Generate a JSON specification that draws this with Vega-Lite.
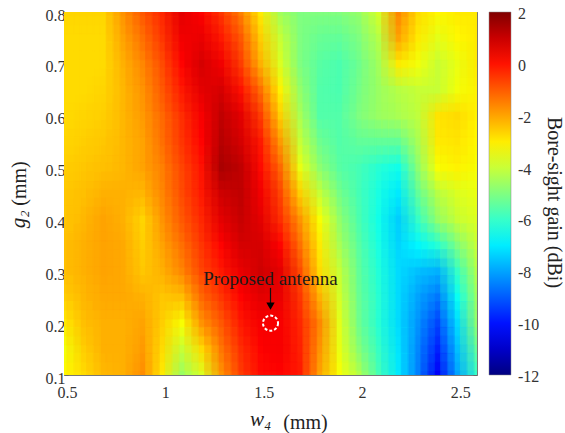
{"$schema":"https://vega.github.io/schema/vega-lite/v6.json","autosize":{"type":"none"},"padding":{"left":64,"top":12,"right":88,"bottom":58},"width":413,"height":363,"background":"white","config":{"view":{"stroke":null},"font":"Liberation Serif"},
"datasets":{"grid":[
{"w":0.5,"g":0.8,"v":-2.7},{"w":0.6,"g":0.8,"v":-2.7},{"w":0.7,"g":0.8,"v":-2.7},{"w":0.8,"g":0.8,"v":-1.8},{"w":0.9,"g":0.8,"v":-1},{"w":1.0,"g":0.8,"v":-0.3},{"w":1.1,"g":0.8,"v":0.6},{"w":1.2,"g":0.8,"v":0.2},{"w":1.3,"g":0.8,"v":-0.5},{"w":1.4,"g":0.8,"v":-1.5},{"w":1.5,"g":0.8,"v":-3},{"w":1.6,"g":0.8,"v":-4.5},{"w":1.7,"g":0.8,"v":-5},{"w":1.8,"g":0.8,"v":-5},{"w":1.9,"g":0.8,"v":-5},{"w":2.0,"g":0.8,"v":-4.7},{"w":2.1,"g":0.8,"v":-3.8},{"w":2.2,"g":0.8,"v":-1.6},{"w":2.3,"g":0.8,"v":-2.8},{"w":2.4,"g":0.8,"v":-3.2},{"w":2.5,"g":0.8,"v":-3},{"w":2.6,"g":0.8,"v":-3},
{"w":0.5,"g":0.75,"v":-2.8},{"w":0.6,"g":0.75,"v":-2.8},{"w":0.7,"g":0.75,"v":-2.8},{"w":0.8,"g":0.75,"v":-2},{"w":0.9,"g":0.75,"v":-1.3},{"w":1.0,"g":0.75,"v":-0.5},{"w":1.1,"g":0.75,"v":0.4},{"w":1.2,"g":0.75,"v":0.5},{"w":1.3,"g":0.75,"v":-0.1},{"w":1.4,"g":0.75,"v":-1},{"w":1.5,"g":0.75,"v":-2.6},{"w":1.6,"g":0.75,"v":-4},{"w":1.7,"g":0.75,"v":-5},{"w":1.8,"g":0.75,"v":-5.3},{"w":1.9,"g":0.75,"v":-5.4},{"w":2.0,"g":0.75,"v":-5},{"w":2.1,"g":0.75,"v":-4.2},{"w":2.2,"g":0.75,"v":-2},{"w":2.3,"g":0.75,"v":-3},{"w":2.4,"g":0.75,"v":-3.6},{"w":2.5,"g":0.75,"v":-3.2},{"w":2.6,"g":0.75,"v":-3},
{"w":0.5,"g":0.7,"v":-2.8},{"w":0.6,"g":0.7,"v":-2.8},{"w":0.7,"g":0.7,"v":-2.8},{"w":0.8,"g":0.7,"v":-2.2},{"w":0.9,"g":0.7,"v":-1.6},{"w":1.0,"g":0.7,"v":-0.8},{"w":1.1,"g":0.7,"v":0.2},{"w":1.2,"g":0.7,"v":0.8},{"w":1.3,"g":0.7,"v":0.4},{"w":1.4,"g":0.7,"v":-0.6},{"w":1.5,"g":0.7,"v":-2.2},{"w":1.6,"g":0.7,"v":-3.7},{"w":1.7,"g":0.7,"v":-5},{"w":1.8,"g":0.7,"v":-5.5},{"w":1.9,"g":0.7,"v":-5.7},{"w":2.0,"g":0.7,"v":-5.2},{"w":2.1,"g":0.7,"v":-4.5},{"w":2.2,"g":0.7,"v":-3},{"w":2.3,"g":0.7,"v":-3.4},{"w":2.4,"g":0.7,"v":-4},{"w":2.5,"g":0.7,"v":-3.5},{"w":2.6,"g":0.7,"v":-3},
{"w":0.5,"g":0.65,"v":-2.8},{"w":0.6,"g":0.65,"v":-2.8},{"w":0.7,"g":0.65,"v":-2.7},{"w":0.8,"g":0.65,"v":-2.3},{"w":0.9,"g":0.65,"v":-1.8},{"w":1.0,"g":0.65,"v":-1},{"w":1.1,"g":0.65,"v":-0.1},{"w":1.2,"g":0.65,"v":0.6},{"w":1.3,"g":0.65,"v":0.8},{"w":1.4,"g":0.65,"v":0},{"w":1.5,"g":0.65,"v":-1.3},{"w":1.6,"g":0.65,"v":-3.1},{"w":1.7,"g":0.65,"v":-4.7},{"w":1.8,"g":0.65,"v":-5.6},{"w":1.9,"g":0.65,"v":-5.7},{"w":2.0,"g":0.65,"v":-5.1},{"w":2.1,"g":0.65,"v":-4.6},{"w":2.2,"g":0.65,"v":-4.2},{"w":2.3,"g":0.65,"v":-4},{"w":2.4,"g":0.65,"v":-4},{"w":2.5,"g":0.65,"v":-3.4},{"w":2.6,"g":0.65,"v":-3.1},
{"w":0.5,"g":0.6,"v":-2.8},{"w":0.6,"g":0.6,"v":-2.7},{"w":0.7,"g":0.6,"v":-2.6},{"w":0.8,"g":0.6,"v":-2.3},{"w":0.9,"g":0.6,"v":-1.9},{"w":1.0,"g":0.6,"v":-1.2},{"w":1.1,"g":0.6,"v":-0.4},{"w":1.2,"g":0.6,"v":0.3},{"w":1.3,"g":0.6,"v":1.1},{"w":1.4,"g":0.6,"v":0.6},{"w":1.5,"g":0.6,"v":-0.6},{"w":1.6,"g":0.6,"v":-2.6},{"w":1.7,"g":0.6,"v":-4.4},{"w":1.8,"g":0.6,"v":-5.6},{"w":1.9,"g":0.6,"v":-5.6},{"w":2.0,"g":0.6,"v":-5},{"w":2.1,"g":0.6,"v":-4.6},{"w":2.2,"g":0.6,"v":-4.4},{"w":2.3,"g":0.6,"v":-4.1},{"w":2.4,"g":0.6,"v":-2.9},{"w":2.5,"g":0.6,"v":-2.8},{"w":2.6,"g":0.6,"v":-3.1},
{"w":0.5,"g":0.55,"v":-2.7},{"w":0.6,"g":0.55,"v":-2.6},{"w":0.7,"g":0.55,"v":-2.5},{"w":0.8,"g":0.55,"v":-2.3},{"w":0.9,"g":0.55,"v":-2},{"w":1.0,"g":0.55,"v":-1.3},{"w":1.1,"g":0.55,"v":-0.5},{"w":1.2,"g":0.55,"v":0.2},{"w":1.3,"g":0.55,"v":1.2},{"w":1.4,"g":0.55,"v":0.8},{"w":1.5,"g":0.55,"v":-0.1},{"w":1.6,"g":0.55,"v":-1.9},{"w":1.7,"g":0.55,"v":-4},{"w":1.8,"g":0.55,"v":-5.2},{"w":1.9,"g":0.55,"v":-5.6},{"w":2.0,"g":0.55,"v":-5.4},{"w":2.1,"g":0.55,"v":-5.4},{"w":2.2,"g":0.55,"v":-5.4},{"w":2.3,"g":0.55,"v":-4.4},{"w":2.4,"g":0.55,"v":-3},{"w":2.5,"g":0.55,"v":-2.9},{"w":2.6,"g":0.55,"v":-3.2},
{"w":0.5,"g":0.5,"v":-2.6},{"w":0.6,"g":0.5,"v":-2.5},{"w":0.7,"g":0.5,"v":-2.4},{"w":0.8,"g":0.5,"v":-2.3},{"w":0.9,"g":0.5,"v":-2},{"w":1.0,"g":0.5,"v":-1.5},{"w":1.1,"g":0.5,"v":-0.7},{"w":1.2,"g":0.5,"v":0},{"w":1.3,"g":0.5,"v":1.4},{"w":1.4,"g":0.5,"v":1.1},{"w":1.5,"g":0.5,"v":0.1},{"w":1.6,"g":0.5,"v":-1.2},{"w":1.7,"g":0.5,"v":-3.5},{"w":1.8,"g":0.5,"v":-4.8},{"w":1.9,"g":0.5,"v":-5.5},{"w":2.0,"g":0.5,"v":-5.8},{"w":2.1,"g":0.5,"v":-6.2},{"w":2.2,"g":0.5,"v":-6.5},{"w":2.3,"g":0.5,"v":-4.8},{"w":2.4,"g":0.5,"v":-3.3},{"w":2.5,"g":0.5,"v":-3.1},{"w":2.6,"g":0.5,"v":-3.3},
{"w":0.5,"g":0.45,"v":-2.5},{"w":0.6,"g":0.45,"v":-2.4},{"w":0.7,"g":0.45,"v":-2.2},{"w":0.8,"g":0.45,"v":-2.2},{"w":0.9,"g":0.45,"v":-2.3},{"w":1.0,"g":0.45,"v":-1.6},{"w":1.1,"g":0.45,"v":-0.8},{"w":1.2,"g":0.45,"v":-0.1},{"w":1.3,"g":0.45,"v":0.9},{"w":1.4,"g":0.45,"v":1.1},{"w":1.5,"g":0.45,"v":0.4},{"w":1.6,"g":0.45,"v":-0.7},{"w":1.7,"g":0.45,"v":-2.6},{"w":1.8,"g":0.45,"v":-4},{"w":1.9,"g":0.45,"v":-5.1},{"w":2.0,"g":0.45,"v":-5.8},{"w":2.1,"g":0.45,"v":-6.4},{"w":2.2,"g":0.45,"v":-7},{"w":2.3,"g":0.45,"v":-5.4},{"w":2.4,"g":0.45,"v":-4.2},{"w":2.5,"g":0.45,"v":-3.7},{"w":2.6,"g":0.45,"v":-3.5},
{"w":0.5,"g":0.4,"v":-2.5},{"w":0.6,"g":0.4,"v":-2.3},{"w":0.7,"g":0.4,"v":-2},{"w":0.8,"g":0.4,"v":-2.2},{"w":0.9,"g":0.4,"v":-2.7},{"w":1.0,"g":0.4,"v":-1.8},{"w":1.1,"g":0.4,"v":-1},{"w":1.2,"g":0.4,"v":-0.3},{"w":1.3,"g":0.4,"v":0.6},{"w":1.4,"g":0.4,"v":1},{"w":1.5,"g":0.4,"v":0.6},{"w":1.6,"g":0.4,"v":-0.4},{"w":1.7,"g":0.4,"v":-1.8},{"w":1.8,"g":0.4,"v":-3.3},{"w":1.9,"g":0.4,"v":-4.7},{"w":2.0,"g":0.4,"v":-5.7},{"w":2.1,"g":0.4,"v":-6.5},{"w":2.2,"g":0.4,"v":-7.4},{"w":2.3,"g":0.4,"v":-6},{"w":2.4,"g":0.4,"v":-4.7},{"w":2.5,"g":0.4,"v":-4},{"w":2.6,"g":0.4,"v":-3.7},
{"w":0.5,"g":0.35,"v":-2.4},{"w":0.6,"g":0.35,"v":-2.2},{"w":0.7,"g":0.35,"v":-2},{"w":0.8,"g":0.35,"v":-2.1},{"w":0.9,"g":0.35,"v":-2.6},{"w":1.0,"g":0.35,"v":-2},{"w":1.1,"g":0.35,"v":-1.3},{"w":1.2,"g":0.35,"v":-0.5},{"w":1.3,"g":0.35,"v":0.2},{"w":1.4,"g":0.35,"v":0.8},{"w":1.5,"g":0.35,"v":0.8},{"w":1.6,"g":0.35,"v":0.2},{"w":1.7,"g":0.35,"v":-1.3},{"w":1.8,"g":0.35,"v":-3},{"w":1.9,"g":0.35,"v":-4.4},{"w":2.0,"g":0.35,"v":-5.5},{"w":2.1,"g":0.35,"v":-6.4},{"w":2.2,"g":0.35,"v":-7.3},{"w":2.3,"g":0.35,"v":-6.8},{"w":2.4,"g":0.35,"v":-6.2},{"w":2.5,"g":0.35,"v":-5},{"w":2.6,"g":0.35,"v":-4},
{"w":0.5,"g":0.3,"v":-2.4},{"w":0.6,"g":0.3,"v":-2.2},{"w":0.7,"g":0.3,"v":-2},{"w":0.8,"g":0.3,"v":-2.1},{"w":0.9,"g":0.3,"v":-2.5},{"w":1.0,"g":0.3,"v":-2.2},{"w":1.1,"g":0.3,"v":-1.6},{"w":1.2,"g":0.3,"v":-0.7},{"w":1.3,"g":0.3,"v":-0.1},{"w":1.4,"g":0.3,"v":0.5},{"w":1.5,"g":0.3,"v":0.9},{"w":1.6,"g":0.3,"v":0.6},{"w":1.7,"g":0.3,"v":-0.8},{"w":1.8,"g":0.3,"v":-2.8},{"w":1.9,"g":0.3,"v":-4},{"w":2.0,"g":0.3,"v":-5.4},{"w":2.1,"g":0.3,"v":-6.3},{"w":2.2,"g":0.3,"v":-7.2},{"w":2.3,"g":0.3,"v":-7.6},{"w":2.4,"g":0.3,"v":-7.8},{"w":2.5,"g":0.3,"v":-6},{"w":2.6,"g":0.3,"v":-4.3},
{"w":0.5,"g":0.25,"v":-2.6},{"w":0.6,"g":0.25,"v":-2.3},{"w":0.7,"g":0.25,"v":-2.1},{"w":0.8,"g":0.25,"v":-2.1},{"w":0.9,"g":0.25,"v":-2.2},{"w":1.0,"g":0.25,"v":-2.5},{"w":1.1,"g":0.25,"v":-2.4},{"w":1.2,"g":0.25,"v":-1.2},{"w":1.3,"g":0.25,"v":-0.5},{"w":1.4,"g":0.25,"v":0.2},{"w":1.5,"g":0.25,"v":0.6},{"w":1.6,"g":0.25,"v":0.5},{"w":1.7,"g":0.25,"v":-0.5},{"w":1.8,"g":0.25,"v":-2.2},{"w":1.9,"g":0.25,"v":-3.8},{"w":2.0,"g":0.25,"v":-5.3},{"w":2.1,"g":0.25,"v":-6.2},{"w":2.2,"g":0.25,"v":-7.2},{"w":2.3,"g":0.25,"v":-8},{"w":2.4,"g":0.25,"v":-8.6},{"w":2.5,"g":0.25,"v":-6.6},{"w":2.6,"g":0.25,"v":-4.6},
{"w":0.5,"g":0.2,"v":-3},{"w":0.6,"g":0.2,"v":-2.4},{"w":0.7,"g":0.2,"v":-2.2},{"w":0.8,"g":0.2,"v":-2.2},{"w":0.9,"g":0.2,"v":-2},{"w":1.0,"g":0.2,"v":-2.6},{"w":1.1,"g":0.2,"v":-3.3},{"w":1.2,"g":0.2,"v":-1.8},{"w":1.3,"g":0.2,"v":-1},{"w":1.4,"g":0.2,"v":-0.1},{"w":1.5,"g":0.2,"v":0.3},{"w":1.6,"g":0.2,"v":0.3},{"w":1.7,"g":0.2,"v":-0.3},{"w":1.8,"g":0.2,"v":-1.6},{"w":1.9,"g":0.2,"v":-3.6},{"w":2.0,"g":0.2,"v":-5.2},{"w":2.1,"g":0.2,"v":-6.2},{"w":2.2,"g":0.2,"v":-7.2},{"w":2.3,"g":0.2,"v":-8.2},{"w":2.4,"g":0.2,"v":-9.3},{"w":2.5,"g":0.2,"v":-7.2},{"w":2.6,"g":0.2,"v":-4.8},
{"w":0.5,"g":0.15,"v":-3.4},{"w":0.6,"g":0.15,"v":-2.6},{"w":0.7,"g":0.15,"v":-2.2},{"w":0.8,"g":0.15,"v":-2.2},{"w":0.9,"g":0.15,"v":-1.9},{"w":1.0,"g":0.15,"v":-2.8},{"w":1.1,"g":0.15,"v":-4},{"w":1.2,"g":0.15,"v":-2.8},{"w":1.3,"g":0.15,"v":-1.4},{"w":1.4,"g":0.15,"v":-0.4},{"w":1.5,"g":0.15,"v":0.2},{"w":1.6,"g":0.15,"v":0.3},{"w":1.7,"g":0.15,"v":-0.2},{"w":1.8,"g":0.15,"v":-1.8},{"w":1.9,"g":0.15,"v":-3.5},{"w":2.0,"g":0.15,"v":-4.9},{"w":2.1,"g":0.15,"v":-6},{"w":2.2,"g":0.15,"v":-7.1},{"w":2.3,"g":0.15,"v":-8.4},{"w":2.4,"g":0.15,"v":-9.8},{"w":2.5,"g":0.15,"v":-7.6},{"w":2.6,"g":0.15,"v":-5.4},
{"w":0.5,"g":0.1,"v":-3.2},{"w":0.6,"g":0.1,"v":-2.8},{"w":0.7,"g":0.1,"v":-2.3},{"w":0.8,"g":0.1,"v":-2.2},{"w":0.9,"g":0.1,"v":-1.7},{"w":1.0,"g":0.1,"v":-3},{"w":1.1,"g":0.1,"v":-4.6},{"w":1.2,"g":0.1,"v":-3.7},{"w":1.3,"g":0.1,"v":-1.8},{"w":1.4,"g":0.1,"v":-0.6},{"w":1.5,"g":0.1,"v":0.1},{"w":1.6,"g":0.1,"v":0.2},{"w":1.7,"g":0.1,"v":-0.1},{"w":1.8,"g":0.1,"v":-2},{"w":1.9,"g":0.1,"v":-3.3},{"w":2.0,"g":0.1,"v":-4.3},{"w":2.1,"g":0.1,"v":-5.8},{"w":2.2,"g":0.1,"v":-7},{"w":2.3,"g":0.1,"v":-8.5},{"w":2.4,"g":0.1,"v":-10.3},{"w":2.5,"g":0.1,"v":-8},{"w":2.6,"g":0.1,"v":-6}
]},
"layer":[
{"data":{"name":"grid"},"mark":{"type":"rect","width":21,"height":27,"xOffset":-6.67,"yOffset":-8.67,"clip":true},
"encoding":{"x":{"field":"w","type":"quantitative","scale":{"domain":[0.5,2.6],"nice":false,"zero":false},"axis":{"values":[0.5,1,1.5,2,2.5],"format":"~g","orient":"bottom","title":"(mm)","titleX":241,"titleY":37,"titleFont":"Liberation Serif","titleFontSize":20,"titleFontWeight":"normal","titleColor":"#222","labelFont":"Liberation Serif","labelFontSize":16,"labelColor":"#333","labelPadding":13,"labelOffset":3,"tickSize":-4,"tickColor":"#666","domainColor":"#777","grid":false,"labelFlush":false}},
"y":{"field":"g","type":"quantitative","scale":{"domain":[0.1,0.8],"nice":false,"zero":false},"axis":{"values":[0.1,0.2,0.3,0.4,0.5,0.6,0.7,0.8],"orient":"left","title":"(mm)","titleX":-39,"titleY":171,"titleBaseline":"alphabetic","titleFont":"Liberation Serif","titleFontSize":20,"titleFontWeight":"normal","titleColor":"#222","labelFont":"Liberation Serif","labelFontSize":16,"labelColor":"#333","labelPadding":3,"labelOffset":3,"tickSize":-4,"tickColor":"#666","domainColor":"#777","grid":false,"labelFlush":false}},
"color":{"field":"v","type":"quantitative","scale":{"domain":[-12,-10.25,-6.75,-5,-3.25,0.25,2],"range":["#000080","#0000ff","#00ffff","#80ff80","#ffff00","#ff0000","#800000"],"interpolate":"rgb"},"legend":{"orient":"none","legendX":425,"legendY":0,"title":null,"gradientLength":363,"gradientThickness":22,"values":[-12,-10,-8,-6,-4,-2,0,2],"labelExpr":"''+datum.value","labelFont":"Liberation Serif","labelFontSize":16,"labelColor":"#333","labelOffset":7,"labelOverlap":false,"gradientStrokeColor":"#888","gradientStrokeWidth":0.5,"encoding":{"labels":{"baseline":{"value":"middle"},"dy":{"value":2}}}}}}},
{"data":{"name":"grid"},"mark":{"type":"rect","width":21,"height":27,"xOffset":0,"yOffset":-8.67,"opacity":0.5,"clip":true},"encoding":{"x":{"field":"w","type":"quantitative","axis":null},"y":{"field":"g","type":"quantitative","axis":null},"color":{"field":"v","type":"quantitative","legend":null}}},
{"data":{"name":"grid"},"mark":{"type":"rect","width":21,"height":27,"xOffset":6.67,"yOffset":-8.67,"opacity":0.3333,"clip":true},"encoding":{"x":{"field":"w","type":"quantitative","axis":null},"y":{"field":"g","type":"quantitative","axis":null},"color":{"field":"v","type":"quantitative","legend":null}}},
{"data":{"name":"grid"},"mark":{"type":"rect","width":21,"height":27,"xOffset":-6.67,"yOffset":0,"opacity":0.25,"clip":true},"encoding":{"x":{"field":"w","type":"quantitative","axis":null},"y":{"field":"g","type":"quantitative","axis":null},"color":{"field":"v","type":"quantitative","legend":null}}},
{"data":{"name":"grid"},"mark":{"type":"rect","width":21,"height":27,"xOffset":0,"yOffset":0,"opacity":0.2,"clip":true},"encoding":{"x":{"field":"w","type":"quantitative","axis":null},"y":{"field":"g","type":"quantitative","axis":null},"color":{"field":"v","type":"quantitative","legend":null}}},
{"data":{"name":"grid"},"mark":{"type":"rect","width":21,"height":27,"xOffset":6.67,"yOffset":0,"opacity":0.1667,"clip":true},"encoding":{"x":{"field":"w","type":"quantitative","axis":null},"y":{"field":"g","type":"quantitative","axis":null},"color":{"field":"v","type":"quantitative","legend":null}}},
{"data":{"name":"grid"},"mark":{"type":"rect","width":21,"height":27,"xOffset":-6.67,"yOffset":8.67,"opacity":0.1429,"clip":true},"encoding":{"x":{"field":"w","type":"quantitative","axis":null},"y":{"field":"g","type":"quantitative","axis":null},"color":{"field":"v","type":"quantitative","legend":null}}},
{"data":{"name":"grid"},"mark":{"type":"rect","width":21,"height":27,"xOffset":0,"yOffset":8.67,"opacity":0.125,"clip":true},"encoding":{"x":{"field":"w","type":"quantitative","axis":null},"y":{"field":"g","type":"quantitative","axis":null},"color":{"field":"v","type":"quantitative","legend":null}}},
{"data":{"name":"grid"},"mark":{"type":"rect","width":21,"height":27,"xOffset":6.67,"yOffset":8.67,"opacity":0.1111,"clip":true},"encoding":{"x":{"field":"w","type":"quantitative","axis":null},"y":{"field":"g","type":"quantitative","axis":null},"color":{"field":"v","type":"quantitative","legend":null}}},
{"data":{"values":[{"w":1.55,"g":0.2}]},"mark":{"type":"point","filled":false,"stroke":"white","strokeWidth":2,"strokeDash":[3,2],"size":227,"opacity":1},
"encoding":{"x":{"field":"w","type":"quantitative","axis":null},"y":{"field":"g","type":"quantitative","axis":null}}},
{"data":{"values":[{"w":1.55,"g":0.268,"g2":0.235}]},"mark":{"type":"rule","color":"#111","strokeWidth":1.2},
"encoding":{"x":{"field":"w","type":"quantitative","axis":null},"y":{"field":"g","type":"quantitative","axis":null},"y2":{"field":"g2"}}},
{"data":{"values":[{"w":1.55,"g":0.233}]},"mark":{"type":"point","shape":"triangle-down","filled":true,"color":"#000","size":70,"opacity":1},
"encoding":{"x":{"field":"w","type":"quantitative","axis":null},"y":{"field":"g","type":"quantitative","axis":null}}},
{"data":{"values":[{"w":1.55,"g":0.285,"label":"Proposed antenna"}]},"mark":{"type":"text","font":"Liberation Serif","fontSize":19,"color":"#1a1a1a"},
"encoding":{"x":{"field":"w","type":"quantitative","axis":null},"y":{"field":"g","type":"quantitative","axis":null},"text":{"field":"label"}}},
{"data":{"values":[{"w":1.5,"g":0.013,"label":"w₄"}]},"mark":{"type":"text","font":"Liberation Serif","fontSize":21,"fontStyle":"italic","color":"#222","clip":false},
"encoding":{"x":{"field":"w","type":"quantitative","axis":null},"y":{"field":"g","type":"quantitative","axis":null},"text":{"field":"label"}}},
{"data":{"values":[{"w":0.3,"g":0.4,"label":"g₂"}]},"mark":{"type":"text","font":"Liberation Serif","fontSize":21,"fontStyle":"italic","color":"#222","angle":270,"baseline":"alphabetic","clip":false},
"encoding":{"x":{"field":"w","type":"quantitative","axis":null},"y":{"field":"g","type":"quantitative","axis":null},"text":{"field":"label"}}},
{"data":{"values":[{"w":0.5,"g":0.1}]},"mark":{"type":"point","opacity":0},
"encoding":{"x":{"field":"w","type":"quantitative","axis":{"orient":"top","values":[0.5,1,1.5,2,2.5],"labels":false,"title":null,"tickSize":-4,"tickColor":"#666","domainColor":"#777","grid":false}},
"y":{"field":"g","type":"quantitative","axis":{"orient":"right","values":[0.1,0.2,0.3,0.4,0.5,0.6,0.7,0.8],"labels":false,"title":"Bore-sight gain (dBi)","titleAngle":90,"titleFont":"Liberation Serif","titleFontSize":20,"titleFontWeight":"normal","titleColor":"#222","titleX":66,"titleY":190,"tickSize":-4,"tickColor":"#666","domainColor":"#777","grid":false}}}}
],
"resolve":{"axis":{"x":"independent","y":"independent"}}}
